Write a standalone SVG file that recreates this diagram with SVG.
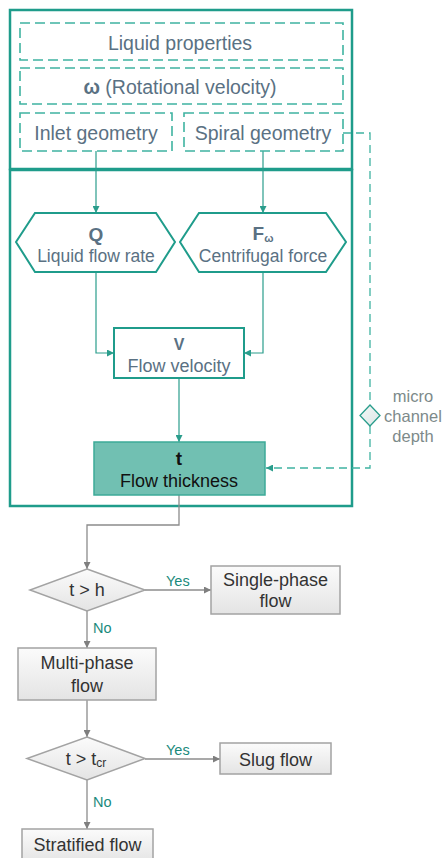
<svg xmlns="http://www.w3.org/2000/svg" width="442" height="858" viewBox="0 0 442 858">
<style>
.frame{fill:none;stroke:#1f9c8b;stroke-width:2.5}
.dbox{fill:none;stroke:#3fb3a1;stroke-width:1.6;stroke-dasharray:10 5}
.tnode{fill:#fff;stroke:#1f9c8b;stroke-width:2}
.tline{fill:none;stroke:#2a9d8c;stroke-width:1.2}
.dline{fill:none;stroke:#3fb3a1;stroke-width:1.3;stroke-dasharray:8 5}
.gline{fill:none;stroke:#8c8c8c;stroke-width:1.3}
.gbox{fill:url(#gg);stroke:#a3a3a3;stroke-width:1.5}
.up{font-family:"Liberation Sans",Arial,sans-serif;fill:#5a7183;text-anchor:middle}
.lo{font-family:"Liberation Sans",Arial,sans-serif;fill:#333;text-anchor:middle;font-size:18px}
.lab{font-family:"Liberation Sans",Arial,sans-serif;fill:#1a8a7c;font-size:14.5px}
.mc{font-family:"Liberation Sans",Arial,sans-serif;font-size:16.5px;text-anchor:middle;fill:#7d8a8a}
</style>
<defs>
<linearGradient id="gg" x1="0" y1="0" x2="0" y2="1"><stop offset="0" stop-color="#fbfbfb"/><stop offset="1" stop-color="#e4e4e4"/></linearGradient>
<linearGradient id="dg" x1="0" y1="0" x2="1" y2="1"><stop offset="0" stop-color="#f4f8f8"/><stop offset="1" stop-color="#dbe6e5"/></linearGradient>
<marker id="at" viewBox="0 0 8 8" refX="8" refY="4" markerWidth="7" markerHeight="7" markerUnits="userSpaceOnUse" orient="auto"><path d="M0,0 L8,4 L0,8 Z" fill="#2a9d8c"/></marker>
<marker id="ag" viewBox="0 0 8 8" refX="8" refY="4" markerWidth="7" markerHeight="7" markerUnits="userSpaceOnUse" orient="auto"><path d="M0,0 L8,4 L0,8 Z" fill="#7f7f7f"/></marker>
</defs>

<g id="frames">
<rect class="frame" x="10" y="10" width="342" height="159"/>
<rect class="frame" x="10" y="170" width="342" height="336"/>
</g>

<g id="connectors">
<path class="tline" d="M96,151 V213" marker-end="url(#at)"/>
<path class="tline" d="M263,151 V213" marker-end="url(#at)"/>
<path class="tline" d="M96,272 V353 H114" marker-end="url(#at)"/>
<path class="tline" d="M263,272 V353 H244" marker-end="url(#at)"/>
<path class="tline" d="M179,378 V442" marker-end="url(#at)"/>
<path class="dline" d="M343,133 H370 V405"/>
<path class="dline" d="M370,426 V468 H266" marker-end="url(#at)"/>
<path class="gline" d="M179,495 V525 H87 V569" marker-end="url(#ag)"/>
<path class="gline" d="M145,590 H211" marker-end="url(#ag)"/>
<path class="gline" d="M87,611 V648" marker-end="url(#ag)"/>
<path class="gline" d="M87,700 V737" marker-end="url(#ag)"/>
<path class="gline" d="M145,759 H220" marker-end="url(#ag)"/>
<path class="gline" d="M87,780 V829" marker-end="url(#ag)"/>
<text class="lab" x="166" y="586">Yes</text>
<text class="lab" x="93" y="633">No</text>
<text class="lab" x="166" y="755">Yes</text>
<text class="lab" x="93" y="807">No</text>
</g>

<g id="liquid-properties">
<rect class="dbox" x="20" y="23" width="323" height="37"/>
<text class="up" x="180" y="50" font-size="19.5">Liquid properties</text>
</g>
<g id="rotational-velocity">
<rect class="dbox" x="20" y="68" width="323" height="36"/>
<text class="up" x="180" y="94" font-size="19.5"><tspan font-weight="bold">ω</tspan> (Rotational velocity)</text>
</g>
<g id="inlet-geometry">
<rect class="dbox" x="20" y="113" width="152" height="38"/>
<text class="up" x="96" y="140" font-size="19.5">Inlet geometry</text>
</g>
<g id="spiral-geometry">
<rect class="dbox" x="184" y="113" width="159" height="38"/>
<text class="up" x="263" y="140" font-size="19.5">Spiral geometry</text>
</g>

<g id="Q">
<polygon class="tnode" points="35,213 156,213 175,242 156,272 35,272 16,242"/>
<text class="up" x="96" y="241" font-size="19" font-weight="bold">Q</text>
<text class="up" x="96" y="262" font-size="17.5">Liquid flow rate</text>
</g>
<g id="F">
<polygon class="tnode" points="199,213 326,213 346,242 326,272 199,272 180,242"/>
<text class="up" x="263" y="240" font-size="19" font-weight="bold">F<tspan font-size="11" dy="2">ω</tspan></text>
<text class="up" x="263" y="262" font-size="17.5">Centrifugal force</text>
</g>
<g id="V">
<rect class="tnode" x="114" y="328" width="130" height="50"/>
<text class="up" x="179" y="350" font-size="16" font-weight="bold">V</text>
<text class="up" x="179" y="372" font-size="18">Flow velocity</text>
</g>
<g id="t">
<rect x="94" y="442" width="171" height="53" fill="#71c0b2" stroke="#3daa98" stroke-width="1.5"/>
<text x="179" y="465" font-family="Liberation Sans,Arial,sans-serif" font-size="19" font-weight="bold" text-anchor="middle" fill="#111">t</text>
<text x="179" y="487" font-family="Liberation Sans,Arial,sans-serif" font-size="18" text-anchor="middle" fill="#111">Flow thickness</text>
</g>
<g id="micro-channel-depth">
<polygon points="370,405 380,415.5 370,426 360,415.5" fill="url(#dg)" stroke="#2a9d8c" stroke-width="1.3"/>
<text class="mc" x="413" y="402">micro</text>
<text class="mc" x="413" y="422">channel</text>
<text class="mc" x="413" y="442">depth</text>
</g>

<g id="t-gt-h">
<polygon class="gbox" points="87,569 145,590 87,611 30,590"/>
<text class="lo" x="87" y="596">t &gt; h</text>
</g>
<g id="single-phase">
<rect class="gbox" x="211" y="566" width="129" height="48"/>
<text class="lo" x="275.5" y="586">Single-phase</text>
<text class="lo" x="275.5" y="607">flow</text>
</g>
<g id="multi-phase">
<rect class="gbox" x="18" y="648" width="138" height="52"/>
<text class="lo" x="87" y="669">Multi-phase</text>
<text class="lo" x="87" y="692">flow</text>
</g>
<g id="t-gt-tcr">
<polygon class="gbox" points="87,737 145,758.5 87,780 27,758.5"/>
<text class="lo" x="86" y="765">t &gt; t<tspan font-size="12" dy="2">cr</tspan></text>
</g>
<g id="slug">
<rect class="gbox" x="220" y="743" width="111" height="31"/>
<text class="lo" x="275.5" y="766">Slug flow</text>
</g>
<g id="stratified">
<rect class="gbox" x="22" y="829" width="131" height="34"/>
<text class="lo" x="87.5" y="851">Stratified flow</text>
</g>
</svg>
